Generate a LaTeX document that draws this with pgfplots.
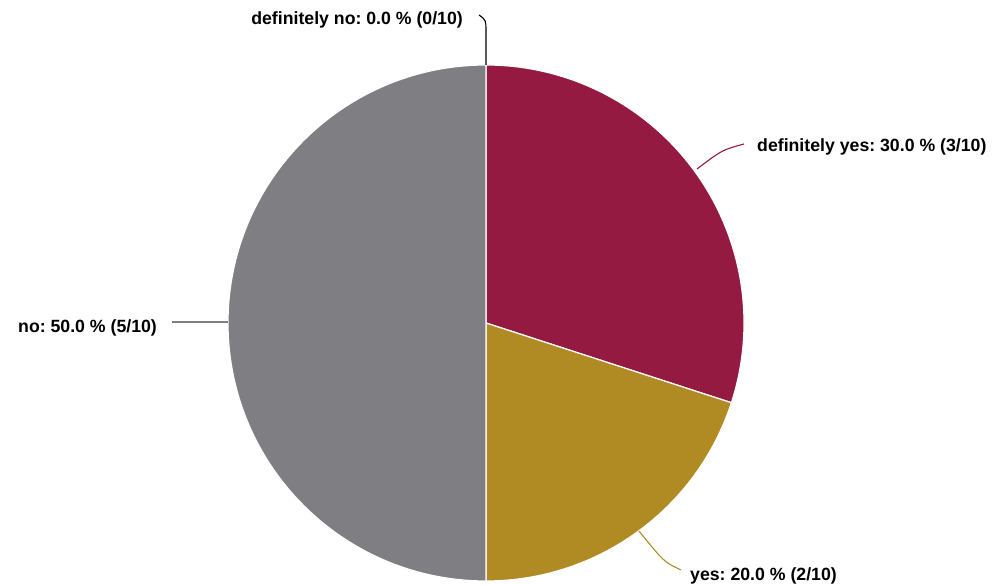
\documentclass[border=0pt]{standalone}
\usepackage{pgfplots}
\pgfplotsset{compat=1.18}
\usepackage{fontspec}
\setmainfont{Liberation Sans}
\frenchspacing
\definecolor{pcrimson}{RGB}{149,26,65}
\definecolor{pgold}{RGB}{176,138,34}
\definecolor{pgray}{RGB}{127,126,130}
\begin{document}
\begin{tikzpicture}
\begin{axis}[
  scale only axis, width=992bp, height=586bp,
  xmin=0, xmax=992, ymin=0, ymax=586,
  hide axis, clip=false,
]
\path (rel axis cs:0,0) rectangle (rel axis cs:1,1);
\pgfplotsextra{
  \gdef\cum{0}
  % value (out of 10) / colour ; slices start at top and run clockwise
  \foreach \v/\c in {0/black,3/pcrimson,2/pgold,5/pgray} {
    \pgfmathsetmacro{\aa}{90-36*\cum}
    \pgfmathsetmacro{\ab}{90-36*(\cum+\v)}
    \fill[\c, draw=white, line width=1.2bp] (axis cs:486,263) -- ++(\aa:258bp) arc[start angle=\aa, end angle=\ab, radius=258bp] -- cycle;
    \pgfmathsetmacro{\nc}{\cum+\v}
    \xdef\cum{\nc}
  }
}
% leader lines
\draw[black, line width=1.1bp] (axis cs:486,521) -- (axis cs:486,554) .. controls (axis cs:486,566) .. (axis cs:479,571);
\draw[pcrimson, line width=1.1bp] (axis cs:697,417) .. controls (axis cs:722,436) .. (axis cs:744,442);
\draw[pgold, line width=1.1bp] (axis cs:639,55) .. controls (axis cs:664,24) .. (axis cs:681,16);
\draw[pgray, line width=1.1bp] (axis cs:172,264) -- (axis cs:228,264);
% labels
\begin{scope}[every node/.style={font=\fontsize{17.7bp}{20bp}\selectfont\bfseries, inner sep=0pt}]
\node[anchor=east] at (axis cs:463,566) {definitely no: 0.0 \% (0/10)};
\node[anchor=west] at (axis cs:757,439) {definitely yes: 30.0 \% (3/10)};
\node[anchor=west] at (axis cs:18,258) {no: 50.0 \% (5/10)};
\node[anchor=west] at (axis cs:690,10) {yes: 20.0 \% (2/10)};
\end{scope}
\end{axis}
\end{tikzpicture}
\end{document}
